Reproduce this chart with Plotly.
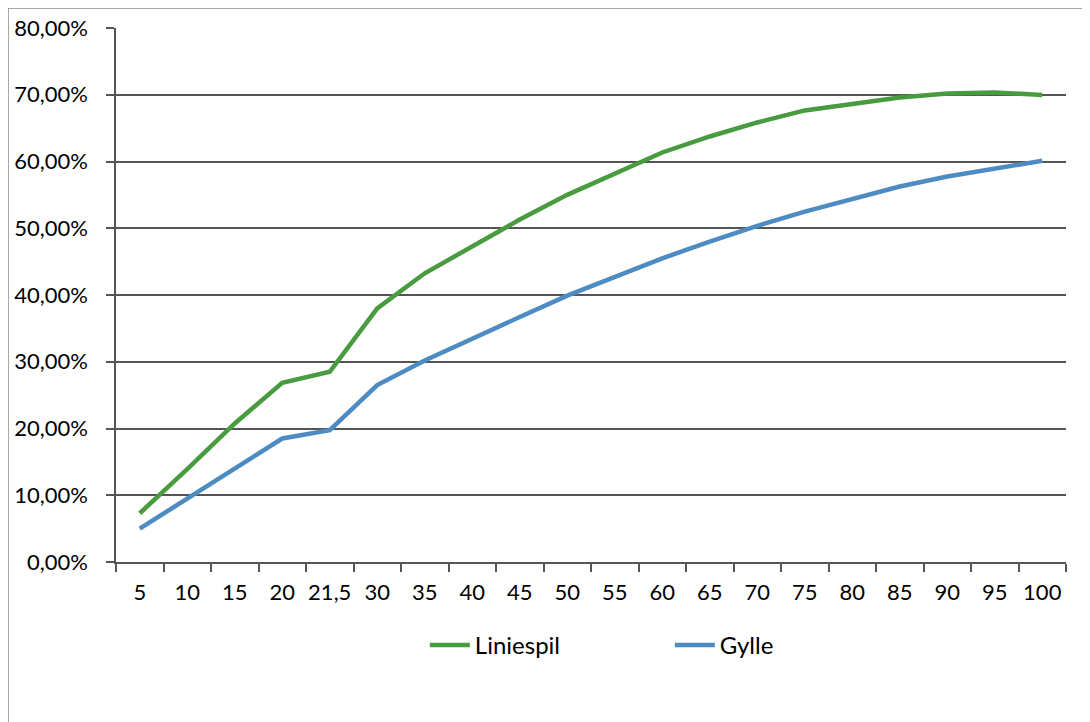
import plotly.graph_objects as go

categories = ["5", "10", "15", "20", "21,5", "30", "35", "40", "45", "50",
              "55", "60", "65", "70", "75", "80", "85", "90", "95", "100"]
liniespil = [0.073, 0.139, 0.2075, 0.2685, 0.285, 0.380, 0.4325, 0.4725, 0.513, 0.550,
             0.581, 0.6135, 0.6375, 0.6585, 0.6765, 0.6855, 0.696, 0.702, 0.7035, 0.6995]
gylle = [0.050, 0.095, 0.140, 0.185, 0.1975, 0.265, 0.302, 0.335, 0.367, 0.399,
         0.4265, 0.455, 0.480, 0.5035, 0.525, 0.5435, 0.5625, 0.5775, 0.590, 0.601]
y_ticks = [0.0, 0.1, 0.2, 0.3, 0.4, 0.5, 0.6, 0.7, 0.8]

GREEN = "#489B3E"
BLUE = "#4D8CC2"
GRID = "#555555"
FONT = "Lato"

fig = go.Figure()
fig.add_trace(go.Scatter(x=categories, y=liniespil, mode="lines", name="Liniespil",
                         line=dict(color=GREEN, width=4.5)))
fig.add_trace(go.Scatter(x=categories, y=gylle, mode="lines", name="Gylle",
                         line=dict(color=BLUE, width=4.5)))

fig.update_layout(
    width=1082, height=714,
    margin=dict(l=108, r=24, t=20, b=160),
    paper_bgcolor="white", plot_bgcolor="white",
    font=dict(family=FONT, size=22, color="black"),
    separators=",.",
    showlegend=True,
    legend=dict(orientation="h", x=0.583, xanchor="center", y=-0.156, yanchor="middle",
                font=dict(family=FONT, size=24, color="black"),
                entrywidth=190, itemwidth=40),
    shapes=[dict(type="rect", xref="paper", yref="paper",
                 x0=-0.1137, x1=1.03, y0=-0.32, y1=1.0375,
                 line=dict(color="#8a8a8a", width=1.5), layer="below")],
)
fig.update_xaxes(type="category", categoryorder="array", categoryarray=categories,
                 showline=True, linecolor=GRID, linewidth=1.5,
                 ticks="outside", tickson="boundaries", ticklen=8, tickcolor=GRID, tickwidth=1.5,
                 showgrid=False, ticklabelstandoff=10, range=[-0.5, 19.5],
                 tickangle=0, automargin=False)
fig.update_yaxes(range=[0, 0.8], tickvals=y_ticks, tickformat=".2%",
                 showline=True, linecolor=GRID, linewidth=1.5,
                 ticks="outside", ticklen=8, tickcolor=GRID, tickwidth=1.5,
                 showgrid=True, gridcolor=GRID, gridwidth=1.5, zeroline=False,
                 ticklabelstandoff=14, automargin=False)

fig.write_html("out.html")
